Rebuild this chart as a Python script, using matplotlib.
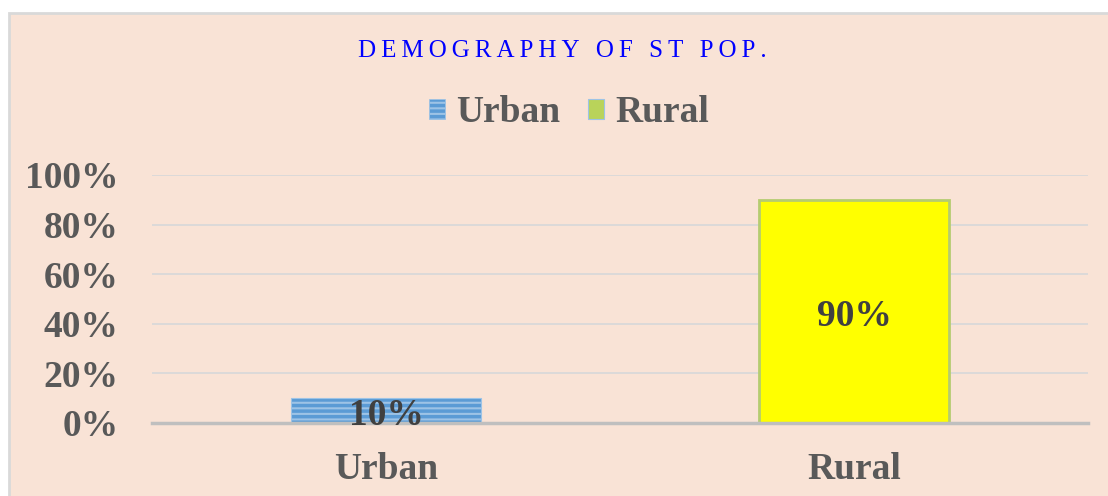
import matplotlib
matplotlib.use("Agg")
import matplotlib.pyplot as plt
from matplotlib.patches import Rectangle, Patch
from matplotlib.ticker import PercentFormatter

categories = ["Urban", "Rural"]
shares = [0.10, 0.90]
labels = ["10%", "90%"]
title = "DEMOGRAPHY OF ST POP."

plt.rcParams["font.family"] = ["Liberation Serif", "DejaVu Serif"]
plt.rcParams["hatch.color"] = "#DDEBF7"
plt.rcParams["hatch.linewidth"] = 1.5

bg = "#F9E3D6"
fig = plt.figure(figsize=(11.08, 4.96), dpi=100, facecolor="white")
# chart area panel with thin gray frame
fig.patches.append(Rectangle((9 / 1108, -0.01), 1.02, (496 - 13) / 496 + 0.01,
                             transform=fig.transFigure, facecolor=bg,
                             edgecolor="#D9D9D9", linewidth=2, zorder=-1))

ax = fig.add_axes([152 / 1108, 73 / 496, 936 / 1108, 248 / 496])
ax.set_facecolor("none")

x = range(len(categories))
bars = ax.bar(x, shares, width=0.404, zorder=3)
bars[0].set_facecolor("#5B9BD5")
bars[0].set_hatch("---")
bars[0].set_edgecolor("#9DC3E6")
bars[0].set_linewidth(0.8)
bars[1].set_facecolor("#FFFF00")
bars[1].set_edgecolor("#B5CC70")
bars[1].set_linewidth(2)

# data labels sit in the middle of each bar, drawn over the axis line
for i, (v, t) in enumerate(zip(shares, labels)):
    ax.text(i, v / 2 - 0.02, t, ha="center", va="center",
            fontsize=27, fontweight="bold", color="#404040", zorder=6)

ax.set_xlim(-0.5, 1.5)
ax.set_ylim(0, 1.0)
ax.set_yticks([0, 0.2, 0.4, 0.6, 0.8, 1.0])
ax.yaxis.set_major_formatter(PercentFormatter(1.0, decimals=0))
ax.set_xticks(list(x))
ax.set_xticklabels(categories)
ax.tick_params(axis="both", length=0, labelsize=27, labelcolor="#595959")
ax.tick_params(axis="y", pad=24)
ax.tick_params(axis="x", pad=21)
for lab in ax.get_xticklabels() + ax.get_yticklabels():
    lab.set_fontweight("bold")

ax.grid(axis="y", color="#D9D9D9", linewidth=1.3, zorder=0)
ax.set_axisbelow(True)
for s in ["top", "right", "left"]:
    ax.spines[s].set_visible(False)
ax.spines["bottom"].set_color("#BFBFBF")
ax.spines["bottom"].set_linewidth(2.5)
ax.spines["bottom"].set_zorder(5)

fig.text(562 / 1108, 1 - 51 / 496, "\u2009".join(title), ha="center", va="center",
         fontsize=18, color="#0000FF")

handles = [Patch(facecolor="#5B9BD5", hatch="---", edgecolor="#9DC3E6", linewidth=0.5),
           Patch(facecolor="#B9D35A", edgecolor="#9DC3E6", linewidth=0.8)]
leg = fig.legend(handles, categories, loc="center", bbox_to_anchor=(569 / 1108, 1 - 113 / 496),
                 ncol=2, frameon=False, handlelength=0.42, handleheight=0.42,
                 handletextpad=0.3, columnspacing=0.75,
                 prop={"size": 27, "weight": "bold"})
for t in leg.get_texts():
    t.set_color("#595959")

fig.savefig("out.png", dpi=100, facecolor="white")
